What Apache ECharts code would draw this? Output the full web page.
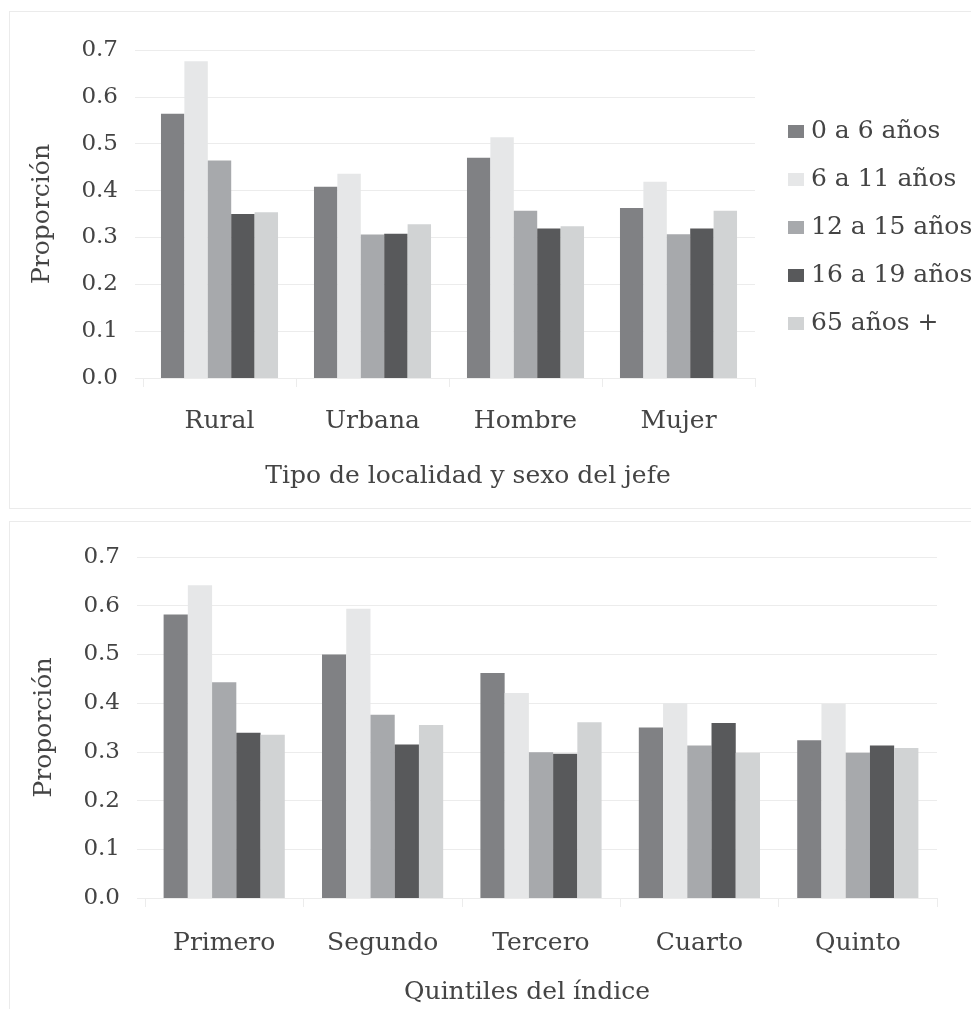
<!DOCTYPE html>
<html>
<head>
<meta charset="utf-8">
<script src="https://cdn.jsdelivr.net/npm/echarts@6/dist/echarts.min.js"></script>
<style>
  html, body { margin: 0; padding: 0; background: #ffffff; overflow: hidden; }
  #wrap { position: relative; width: 971px; height: 1009px; overflow: hidden; }
  .panel { position: absolute; box-sizing: border-box; border: 1px solid #ebebeb; border-right: none; }
  #p1 { left: 9px; top: 11px; width: 1000px; height: 498px; }
  #p2 { left: 9px; top: 521px; width: 1000px; height: 520px; border-bottom: none; }
  #chart { position: absolute; left: 0; top: 0; width: 971px; height: 1009px; }
</style>
</head>
<body>
<div id="wrap">
  <div class="panel" id="p1"></div>
  <div class="panel" id="p2"></div>
  <div id="chart"></div>
</div>
<script>
// ---- Data ----
var seriesNames = ['0 a 6 años', '6 a 11 años', '12 a 15 años', '16 a 19 años', '65 años +'];

var topCategories = ['Rural', 'Urbana', 'Hombre', 'Mujer'];
var top0a6   = [0.564, 0.408, 0.470, 0.363];
var top6a11  = [0.676, 0.436, 0.514, 0.419];
var top12a15 = [0.464, 0.306, 0.357, 0.307];
var top16a19 = [0.350, 0.308, 0.319, 0.319];
var top65    = [0.354, 0.328, 0.324, 0.357];

var bottomCategories = ['Primero', 'Segundo', 'Tercero', 'Cuarto', 'Quinto'];
var bot0a6   = [0.582, 0.500, 0.462, 0.350, 0.324];
var bot6a11  = [0.642, 0.594, 0.421, 0.400, 0.399];
var bot12a15 = [0.443, 0.376, 0.299, 0.313, 0.298];
var bot16a19 = [0.339, 0.315, 0.296, 0.359, 0.313];
var bot65    = [0.335, 0.355, 0.361, 0.298, 0.308];

var yTickMin = 0, yTickMax = 0.7, yTickStep = 0.1;

var topAxisTitle = 'Tipo de localidad y sexo del jefe';
var bottomAxisTitle = 'Quintiles del índice';
var yAxisTitle = 'Proporción';

// ---- Styles ----
var barColors = ['#808184', '#e6e7e8', '#a7a9ac', '#58595b', '#d1d3d4'];
var FONT = 'DejaVu Serif';
var TXT = '#444444';
var GRID_LINE = '#ececec';

function yAxisDef(gridIndex) {
  return {
    type: 'value',
    gridIndex: gridIndex,
    min: yTickMin,
    max: yTickMax,
    interval: yTickStep,
    name: yAxisTitle,
    nameLocation: 'middle',
    nameGap: 88,
    nameTextStyle: { fontFamily: FONT, fontSize: 25, color: TXT },
    axisLine: { show: false },
    axisTick: { show: true, length: 8, lineStyle: { color: GRID_LINE } },
    axisLabel: {
      margin: 25,
      fontFamily: FONT, fontSize: 23, color: TXT,
      formatter: function (v) { return v.toFixed(1); }
    },
    splitLine: { show: true, lineStyle: { color: GRID_LINE, width: 1 } }
  };
}

function xAxisDef(gridIndex, cats, title, namePad, nameGap, labelMargin) {
  return {
    type: 'category',
    gridIndex: gridIndex,
    data: cats,
    name: title,
    nameLocation: 'middle',
    nameGap: nameGap,
    nameTextStyle: { fontFamily: FONT, fontSize: 25, color: TXT, padding: namePad },
    axisLine: { show: true, lineStyle: { color: GRID_LINE, width: 1 } },
    axisTick: { show: true, length: 9, alignWithLabel: false, lineStyle: { color: GRID_LINE } },
    axisLabel: { margin: labelMargin, fontFamily: FONT, fontSize: 25, color: TXT, interval: 0 },
    splitLine: { show: false }
  };
}

var topValues = [top0a6, top6a11, top12a15, top16a19, top65];
var botValues = [bot0a6, bot6a11, bot12a15, bot16a19, bot65];

var series = [];
topValues.forEach(function (vals, i) {
  series.push({
    name: seriesNames[i], type: 'bar', xAxisIndex: 0, yAxisIndex: 0,
    data: vals, barGap: '0%', barCategoryGap: '23.5%',
    itemStyle: { color: barColors[i] }, emphasis: { disabled: true }
  });
});
botValues.forEach(function (vals, i) {
  series.push({
    name: seriesNames[i], type: 'bar', xAxisIndex: 1, yAxisIndex: 1,
    data: vals, barGap: '0%', barCategoryGap: '23.5%',
    itemStyle: { color: barColors[i] }, emphasis: { disabled: true }
  });
});

var chart = echarts.init(document.getElementById('chart'), null, { renderer: 'canvas' });
chart.setOption({
  animation: false,
  backgroundColor: 'transparent',
  color: barColors,
  legend: {
    data: seriesNames,
    orient: 'vertical',
    left: 783,
    top: 114,
    itemWidth: 16,
    itemHeight: 13,
    itemGap: 23,
    icon: 'rect',
    selectedMode: false,
    textStyle: { fontFamily: FONT, fontSize: 25, color: TXT, lineHeight: 25, padding: [0, 0, 0, 2] }
  },
  grid: [
    { left: 143, top: 50, width: 612, height: 328, containLabel: false },
    { left: 145, top: 557, width: 792, height: 341, containLabel: false }
  ],
  xAxis: [
    xAxisDef(0, topCategories, topAxisTitle, [0, 0, 0, 38], 86, 31),
    xAxisDef(1, bottomCategories, bottomAxisTitle, [0, 28, 0, 0], 82, 33)
  ],
  yAxis: [yAxisDef(0), yAxisDef(1)],
  series: series
});
</script>
</body>
</html>
